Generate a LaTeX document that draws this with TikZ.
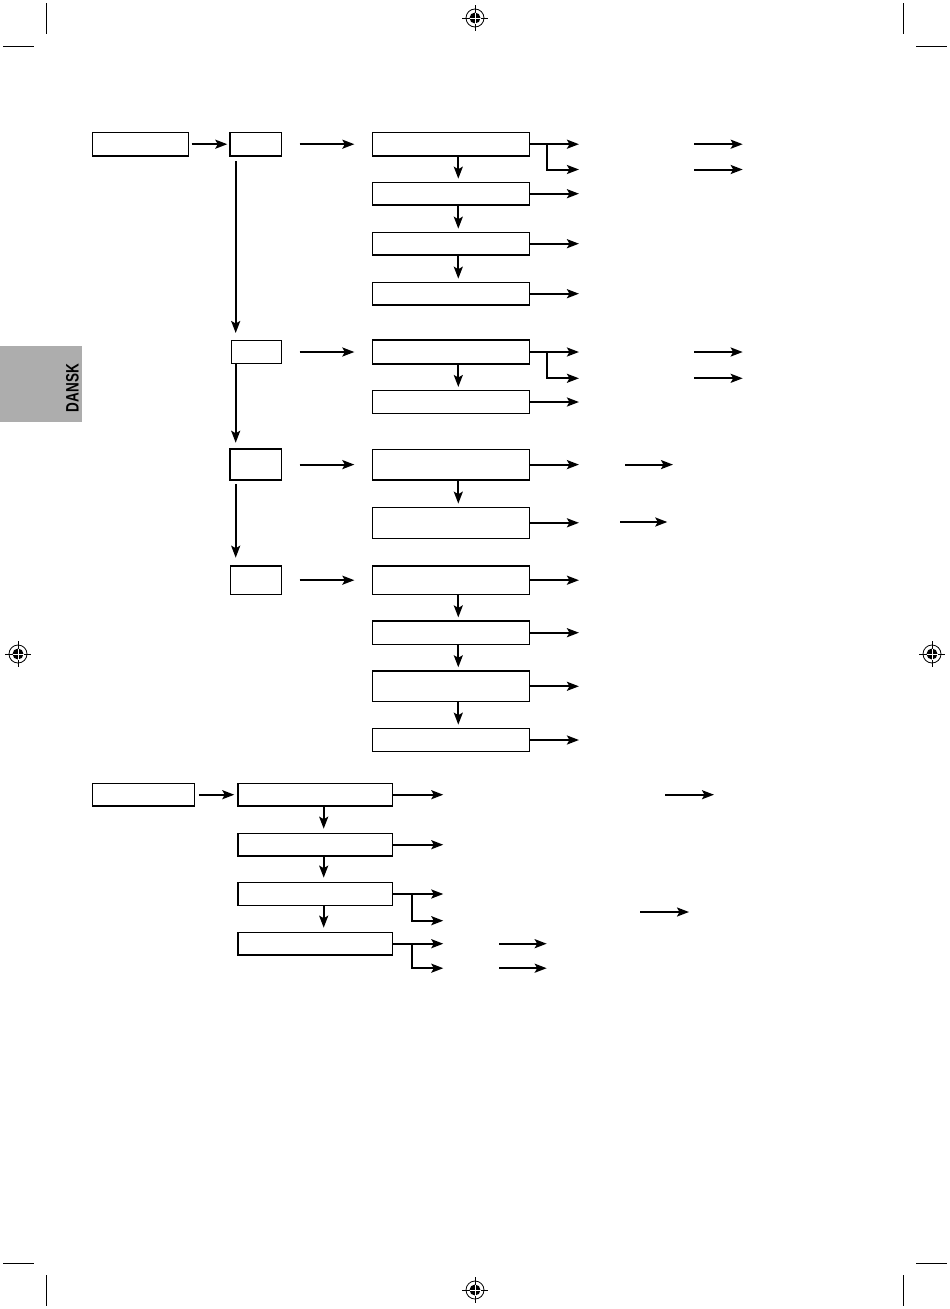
\documentclass[tikz,border=0pt]{standalone}
\usepackage{fontspec}
\setmainfont{Liberation Sans}
\usetikzlibrary{arrows.meta,calc}
\definecolor{tabgray}{RGB}{173,173,173}
\tikzset{
  box/.style={draw=black, line width=1.3pt, fill=white, inner sep=0pt, minimum width=157pt},
  arr/.style={line width=2pt, -{Stealth[length=12pt,width=9pt,inset=2.5pt]}},
  trim/.style={line width=1pt},
  regmark/.pic={
    \fill[black] (0,0) circle (5.5);
    \draw[line width=0.8pt] (0,0) circle (9);
    \draw[line width=0.8pt] (-13,0) -- (13,0) (0,-13) -- (0,13);
    \draw[white, line width=0.7pt] (-5.5,0) -- (5.5,0) (0,-5.5) -- (0,5.5);
  }
}
\begin{document}
\begin{tikzpicture}[x=1pt,y=-1pt]
\useasboundingbox (0,0) rectangle (950,1309);

% trim marks
\draw[trim] (46.7,3) -- (46.7,34) (3,46) -- (34,46);
\draw[trim] (903.3,3) -- (903.3,34) (916,46) -- (947,46);
\draw[trim] (3,1263) -- (34,1263) (46.7,1275) -- (46.7,1306);
\draw[trim] (916,1263) -- (947,1263) (903.3,1275) -- (903.3,1306);

% registration marks
\pic at (475,18) {regmark};
\pic at (475,1290) {regmark};
\pic at (18,654) {regmark};
\pic at (932,654) {regmark};

% language tab
\fill[tabgray] (0,346) rectangle (82,422);
\node[rotate=90, font=\bfseries\fontsize{18pt}{18pt}\selectfont, inner sep=0pt] (tab) at (72.5,388) {\scalebox{0.75}[1]{DANSK}};

% ---- upper chart: boxes
\node[box, minimum width=96pt, minimum height=23.7pt] (A) at (140.7,144.2) {};
\node[box, minimum width=51.7pt, minimum height=23.7pt] (B1) at (255.8,144.2) {};
\node[box, minimum height=23.7pt] (C1) at (450.8,144.2) {};
\node[box, minimum height=22.7pt] (C2) at (450.8,193.7) {};
\node[box, minimum height=22.7pt] (C3) at (450.8,243.7) {};
\node[box, minimum height=22.7pt] (C4) at (450.8,293.7) {};

\node[box, minimum width=50pt, minimum height=23.3pt] (B2) at (256.7,352) {};
\node[box, minimum height=24pt] (D1) at (450.8,352) {};
\node[box, minimum height=22.7pt] (D2) at (450.8,402) {};

\node[box, minimum width=51.7pt, minimum height=31pt] (B3) at (255.8,464.6) {};
\node[box, minimum height=30.7pt] (E1) at (450.8,464.6) {};
\node[box, minimum height=31pt] (E2) at (450.8,522.8) {};

\node[box, minimum width=51.4pt, minimum height=28.3pt] (B4) at (256,580.2) {};
\node[box, minimum height=28.3pt] (F1) at (450.8,580.2) {};
\node[box, minimum height=23.3pt] (F2) at (450.8,632.7) {};
\node[box, minimum height=30.7pt] (F3) at (450.8,686.3) {};
\node[box, minimum height=23.4pt] (F4) at (450.8,740) {};

% ---- lower chart: boxes
\node[box, minimum width=102pt, minimum height=22.7pt] (G) at (143.7,794.7) {};
\node[box, minimum width=154.7pt, minimum height=22.7pt] (H1) at (315.3,794.7) {};
\node[box, minimum width=154.7pt, minimum height=22.7pt] (H2) at (315.3,844.7) {};
\node[box, minimum width=154.7pt, minimum height=23.4pt] (H3) at (315.3,894) {};
\node[box, minimum width=154.7pt, minimum height=22.7pt] (H4) at (315.3,943.7) {};

% ---- connectors upper chart
\draw[arr] ($(A.east)+(2.3,0)$) -- ($(B1.west |- A.east)+(-2,0)$);
\coordinate (vx) at (235.7,0);
\draw[arr] ($(vx |- B1.south)+(0,4.7)$) -- ($(vx |- B2.north)+(0,-6.7)$);
\draw[arr] (vx |- B2.south) -- ($(vx |- B3.north)+(0,-5.7)$);
\draw[arr] ($(vx |- B3.south)+(0,3)$) -- ($(vx |- B4.north)+(0,-7.7)$);

\draw[arr] ($(B1.east)+(17.3,0)$) -- ($(C1.west |- B1.east)+(-17.3,0)$);
\draw[arr] ($(B2.east)+(17.3,0)$) -- ($(D1.west |- B2.east)+(-17.3,0)$);
\draw[arr] ($(B3.east)+(17.3,0)$) -- ($(E1.west |- B3.east)+(-17.3,0)$);
\draw[arr] ($(B4.east)+(17.3,0)$) -- ($(F1.west |- B4.east)+(-17.3,0)$);

\draw[arr] ($(C1.south)+(7.5,0)$) -- ($(C2.north)+(7.5,-3)$);
\draw[arr] ($(C2.south)+(7.5,0)$) -- ($(C3.north)+(7.5,-3)$);
\draw[arr] ($(C3.south)+(7.5,0)$) -- ($(C4.north)+(7.5,-3)$);
\draw[arr] ($(D1.south)+(7.5,0)$) -- ($(D2.north)+(7.5,-3)$);
\draw[arr] ($(E1.south)+(7.5,0)$) -- ($(E2.north)+(7.5,-3)$);
\draw[arr] ($(F1.south)+(7.5,0)$) -- ($(F2.north)+(7.5,-3)$);
\draw[arr] ($(F2.south)+(7.5,0)$) -- ($(F3.north)+(7.5,-3)$);
\draw[arr] ($(F3.south)+(7.5,0)$) -- ($(F4.north)+(7.5,-3)$);

\draw[arr] (C1.east) -- ++(49,0);
\draw[arr] ($(C1.east)+(17.4,0)$) |- ++(31.6,25.3);
\draw[arr] (C2.east) -- ++(49,0);
\draw[arr] (C3.east) -- ++(49,0);
\draw[arr] (C4.east) -- ++(49,0);
\draw[arr] (D1.east) -- ++(49,0);
\draw[arr] ($(D1.east)+(17.4,0)$) |- ++(31.6,26.3);
\draw[arr] (D2.east) -- ++(49,0);
\draw[arr] (E1.east) -- ++(49,0);
\draw[arr] (E2.east) -- ++(49,0);
\draw[arr] (F1.east) -- ++(49,0);
\draw[arr] (F2.east) -- ++(49,0);
\draw[arr] (F3.east) -- ++(49,0);
\draw[arr] (F4.east) -- ++(49,0);

% free arrows (upper)
\coordinate (p1s) at (694,144.2);   \coordinate (p1e) at (742.7,144.2);
\coordinate (p2s) at (694,169.5);   \coordinate (p2e) at (742.7,169.5);
\coordinate (p3s) at (694,352);     \coordinate (p3e) at (742.7,352);
\coordinate (p4s) at (694,378.3);   \coordinate (p4e) at (742.7,378.3);
\coordinate (p5s) at (625,464.6);   \coordinate (p5e) at (673,464.6);
\coordinate (p6s) at (620,522);     \coordinate (p6e) at (667.3,522);
\draw[arr] (p1s) -- (p1e);
\draw[arr] (p2s) -- (p2e);
\draw[arr] (p3s) -- (p3e);
\draw[arr] (p4s) -- (p4e);
\draw[arr] (p5s) -- (p5e);
\draw[arr] (p6s) -- (p6e);

% ---- connectors lower chart
\draw[arr] ($(G.east)+(3.6,0)$) -- ($(H1.west |- G.east)+(-3,0)$);
\draw[arr] ($(H1.south)+(8.4,0)$) -- ($(H2.north)+(8.4,-4)$);
\draw[arr] ($(H2.south)+(8.4,0)$) -- ($(H3.north)+(8.4,-4)$);
\draw[arr] ($(H3.south)+(8.4,0)$) -- ($(H4.north)+(8.4,-4)$);

\draw[arr] (H1.east) -- ++(50,0);
\draw[arr] (H2.east) -- ++(50,0);
\draw[arr] (H3.east) -- ++(50,0);
\draw[arr] ($(H3.east)+(18.3,0)$) |- ++(31.7,26.7);
\draw[arr] (H4.east) -- ++(50,0);
\draw[arr] ($(H4.east)+(18.3,0)$) |- ++(31.7,24.5);

\coordinate (q1s) at (665,794.7);   \coordinate (q1e) at (714,794.7);
\coordinate (q2s) at (640,912);     \coordinate (q2e) at (689,912);
\coordinate (q3s) at (499,943.7);   \coordinate (q3e) at (546.7,943.7);
\coordinate (q4s) at (499,968.2);   \coordinate (q4e) at (546.7,968.2);
\draw[arr] (q1s) -- (q1e);
\draw[arr] (q2s) -- (q2e);
\draw[arr] (q3s) -- (q3e);
\draw[arr] (q4s) -- (q4e);
\end{tikzpicture}
\end{document}
